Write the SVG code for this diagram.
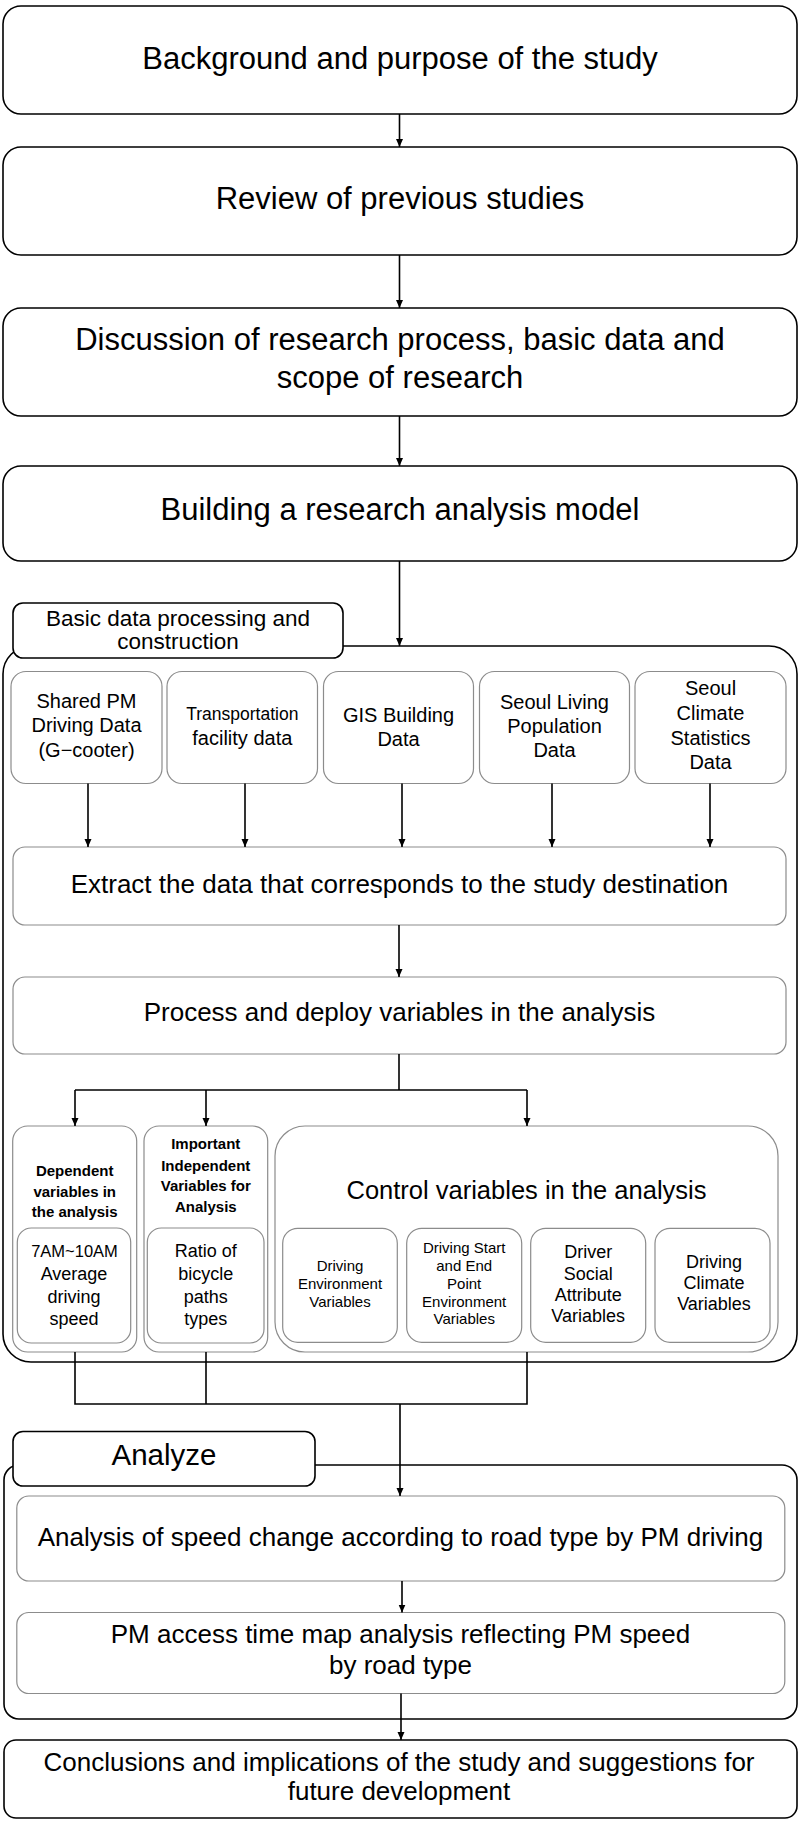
<svg xmlns="http://www.w3.org/2000/svg" width="800" height="1826" viewBox="0 0 800 1826">
<defs>
<marker id="ah" markerWidth="10" markerHeight="10" refX="8" refY="4" orient="auto" markerUnits="userSpaceOnUse"><path d="M0,0.5 L8,4 L0,7.5 z" fill="#000"/></marker>
</defs>
<style>
.main{fill:#fff;stroke:#000;stroke-width:1.6}
.sub{fill:#fff;stroke:#8c8c8c;stroke-width:1.2}
.t{font-family:"Liberation Sans","Noto Sans",Arial,sans-serif;fill:#000;text-anchor:middle}
.s31{font-size:31px}
.s26{font-size:26px}
.s20{font-size:20px}
.s18{font-size:18px}
.s15{font-size:15px}
.b{font-weight:bold}
.c{fill:none;stroke:#000;stroke-width:1.6}
.a{marker-end:url(#ah)}
</style>

<g id="n-background">
<rect class="main" x="3" y="6" width="794" height="108" rx="18"/>
<text class="t s31" x="400" y="69">Background and purpose of the study</text>
</g>
<g id="n-review">
<rect class="main" x="3" y="147" width="794" height="108" rx="18"/>
<text class="t s31" x="400" y="209">Review of previous studies</text>
</g>
<g id="n-discussion">
<rect class="main" x="3" y="308" width="794" height="108" rx="18"/>
<text class="t s31" x="400" y="350">Discussion of research process, basic data and</text>
<text class="t s31" x="400" y="388">scope of research</text>
</g>
<g id="n-building">
<rect class="main" x="3" y="466" width="794" height="95" rx="18"/>
<text class="t s31" x="400" y="520">Building a research analysis model</text>
</g>

<g id="n-basic-container">
<rect class="main" x="3" y="646" width="794" height="716" rx="28"/>
</g>
<g id="n-basic-tab">
<rect class="main" x="13" y="603" width="330" height="55" rx="10"/>
<text class="t" style="font-size:22.5px" x="178" y="626">Basic data processing and</text>
<text class="t" style="font-size:22.5px" x="178" y="649">construction</text>
</g>

<g id="n-shared-pm">
<rect class="sub" x="11" y="671.5" width="151" height="112" rx="15"/>
<text class="t s20" x="86.5" y="708">Shared PM</text>
<text class="t s20" x="86.5" y="732">Driving Data</text>
<text class="t s20" x="86.5" y="756.5">(G−cooter)</text>
</g>
<g id="n-transport">
<rect class="sub" x="167" y="671.5" width="150.5" height="112" rx="15"/>
<text class="t" style="font-size:17.5px" x="242.3" y="720">Transportation</text>
<text class="t s20" x="242.3" y="745">facility data</text>
</g>
<g id="n-gis">
<rect class="sub" x="323.5" y="671.5" width="150" height="112" rx="15"/>
<text class="t s20" x="398.5" y="721.5">GIS Building</text>
<text class="t s20" x="398.5" y="745.5">Data</text>
</g>
<g id="n-living">
<rect class="sub" x="479.5" y="671.5" width="150" height="112" rx="15"/>
<text class="t s20" x="554.5" y="709">Seoul Living</text>
<text class="t s20" x="554.5" y="733">Population</text>
<text class="t s20" x="554.5" y="757">Data</text>
</g>
<g id="n-climate">
<rect class="sub" x="635" y="671.5" width="151" height="112" rx="15"/>
<text class="t s20" x="710.5" y="695">Seoul</text>
<text class="t s20" x="710.5" y="720">Climate</text>
<text class="t s20" x="710.5" y="744.5">Statistics</text>
<text class="t s20" x="710.5" y="768.5">Data</text>
</g>

<g id="n-extract">
<rect class="sub" x="13" y="847" width="773" height="78" rx="12"/>
<text class="t s26" x="399.5" y="893">Extract the data that corresponds to the study destination</text>
</g>
<g id="n-process">
<rect class="sub" x="13" y="977" width="773" height="77" rx="12"/>
<text class="t s26" x="399.5" y="1021">Process and deploy variables in the analysis</text>
</g>

<g id="n-dependent">
<rect class="sub" x="12.7" y="1126" width="124" height="226" rx="15"/>
<text class="t s15 b" x="74.7" y="1176">Dependent</text>
<text class="t s15 b" x="74.7" y="1197">variables in</text>
<text class="t s15 b" x="74.7" y="1217">the analysis</text>
<rect class="sub" x="17.3" y="1228" width="113.4" height="115" rx="14"/>
<text class="t" style="font-size:16.5px" x="74.5" y="1257">7AM~10AM</text>
<text class="t s18" x="74" y="1280">Average</text>
<text class="t s18" x="74" y="1302.5">driving</text>
<text class="t s18" x="74" y="1325">speed</text>
</g>
<g id="n-important">
<rect class="sub" x="144" y="1126" width="123.7" height="226" rx="15"/>
<text class="t s15 b" x="205.8" y="1149">Important</text>
<text class="t s15 b" x="205.8" y="1170.5">Independent</text>
<text class="t s15 b" x="205.8" y="1190.5">Variables for</text>
<text class="t s15 b" x="205.8" y="1212">Analysis</text>
<rect class="sub" x="147.3" y="1228" width="116.7" height="115" rx="14"/>
<text class="t s18" x="205.7" y="1257">Ratio of</text>
<text class="t s18" x="205.7" y="1280">bicycle</text>
<text class="t s18" x="205.7" y="1302.5">paths</text>
<text class="t s18" x="205.7" y="1325">types</text>
</g>
<g id="n-control">
<rect class="sub" x="275" y="1126" width="503" height="226" rx="30"/>
<text class="t" style="font-size:25.5px" x="526.5" y="1199">Control variables in the analysis</text>
</g>
<g id="n-driving-env">
<rect class="sub" x="282.7" y="1228.3" width="114.6" height="114" rx="15"/>
<text class="t s15" x="340" y="1271">Driving</text>
<text class="t s15" x="340" y="1289.3">Environment</text>
<text class="t s15" x="340" y="1307.3">Variables</text>
</g>
<g id="n-start-end">
<rect class="sub" x="406.7" y="1228.3" width="115" height="114" rx="15"/>
<text class="t s15" x="464.2" y="1253.3">Driving Start</text>
<text class="t s15" x="464.2" y="1271">and End</text>
<text class="t s15" x="464.2" y="1289">Point</text>
<text class="t s15" x="464.2" y="1306.7">Environment</text>
<text class="t s15" x="464.2" y="1324">Variables</text>
</g>
<g id="n-social">
<rect class="sub" x="530.7" y="1228.3" width="115" height="114" rx="15"/>
<text class="t s18" x="588.2" y="1258.3">Driver</text>
<text class="t s18" x="588.2" y="1280">Social</text>
<text class="t s18" x="588.2" y="1301">Attribute</text>
<text class="t s18" x="588.2" y="1321.7">Variables</text>
</g>
<g id="n-climate-var">
<rect class="sub" x="655" y="1228.3" width="115" height="114" rx="15"/>
<text class="t s18" x="714" y="1268.3">Driving</text>
<text class="t s18" x="714" y="1288.5">Climate</text>
<text class="t s18" x="714" y="1310">Variables</text>
</g>

<g id="n-analyze-container">
<rect class="main" x="4" y="1465" width="793" height="254" rx="15"/>
</g>
<g id="n-analyze-tab">
<rect class="main" x="13" y="1431.5" width="302" height="54.5" rx="10"/>
<text class="t" style="font-size:29.5px" x="164" y="1465">Analyze</text>
</g>
<g id="n-speed-change">
<rect class="sub" x="16.8" y="1496" width="768" height="85" rx="12"/>
<text class="t s26" x="400.5" y="1545.5">Analysis of speed change according to road type by PM driving</text>
</g>
<g id="n-access-map">
<rect class="sub" x="16.8" y="1612.5" width="768" height="81" rx="12"/>
<text class="t s26" x="400.5" y="1643">PM access time map analysis reflecting PM speed</text>
<text class="t s26" x="400.5" y="1674">by road type</text>
</g>
<g id="n-conclusions">
<rect class="main" x="4" y="1740" width="793" height="78" rx="12"/>
<text class="t s26" x="399" y="1771">Conclusions and implications of the study and suggestions for</text>
<text class="t s26" x="399" y="1800">future development</text>
</g>

<g id="connectors">
<line class="c a" x1="399.5" y1="114" x2="399.5" y2="147"/>
<line class="c a" x1="399.5" y1="255" x2="399.5" y2="308"/>
<line class="c a" x1="399.5" y1="416" x2="399.5" y2="466"/>
<line class="c a" x1="399.5" y1="561" x2="399.5" y2="646"/>
<line class="c a" x1="88" y1="783.5" x2="88" y2="847"/>
<line class="c a" x1="245" y1="783.5" x2="245" y2="847"/>
<line class="c a" x1="402" y1="783.5" x2="402" y2="847"/>
<line class="c a" x1="552" y1="783.5" x2="552" y2="847"/>
<line class="c a" x1="710" y1="783.5" x2="710" y2="847"/>
<line class="c a" x1="399" y1="925" x2="399" y2="977"/>
<polyline class="c" points="399,1054 399,1090"/>
<polyline class="c" points="75,1090 527,1090"/>
<line class="c a" x1="75" y1="1090" x2="75" y2="1126"/>
<line class="c a" x1="206" y1="1090" x2="206" y2="1126"/>
<line class="c a" x1="527" y1="1090" x2="527" y2="1126"/>
<polyline class="c" points="75,1352 75,1404 527,1404 527,1352"/>
<line class="c" x1="206" y1="1352" x2="206" y2="1404"/>
<line class="c a" x1="400" y1="1404" x2="400" y2="1496"/>
<line class="c a" x1="402" y1="1581" x2="402" y2="1612.5"/>
<line class="c a" x1="401" y1="1693.5" x2="401" y2="1740"/>
</g>
</svg>
